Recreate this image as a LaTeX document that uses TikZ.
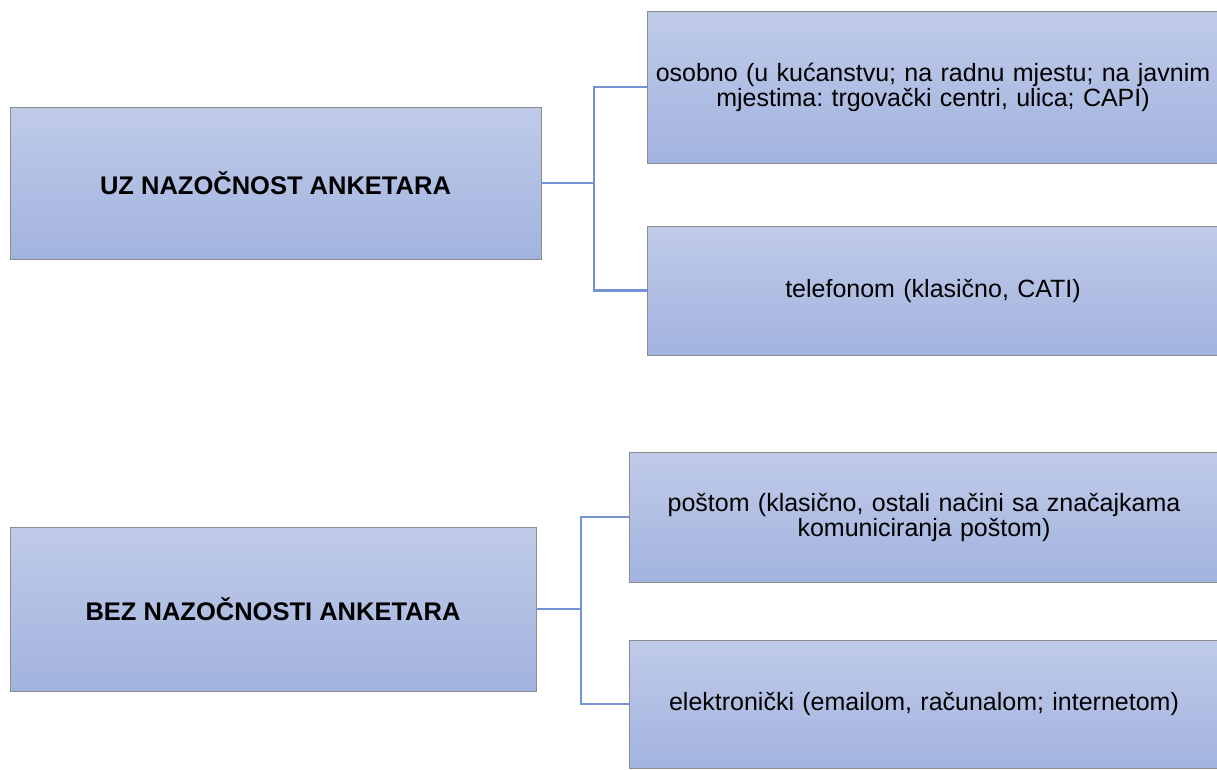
\documentclass[tikz,border=0pt]{standalone}
\usepackage{fontspec}
\setmainfont{Liberation Sans}
\frenchspacing
\begin{document}
\begin{tikzpicture}[x=1pt,y=-1pt,
  box/.style={rectangle, draw=black!45, line width=0.8pt, top color=boxtop, bottom color=boxbot, align=center, inner sep=0pt, font=\fontsize{25}{25}\selectfont},
  main/.style={box, font=\fontsize{25.5}{26}\selectfont\bfseries},
  link/.style={draw=linkblue, line width=2.5pt, line join=miter}]
\definecolor{boxtop}{HTML}{C0CBE8}
\definecolor{boxbot}{HTML}{A2B3DF}
\definecolor{linkblue}{HTML}{7393D3}
\useasboundingbox (0,0) rectangle (1217,769);
\clip (0,0) rectangle (1217,769);
\fill[white] (0,0) rectangle (1217,769);
% top group
\node[main, minimum width=531pt, minimum height=152pt] (A) at (275.5,183) {UZ NAZOČNOST ANKETARA};
\node[box, minimum width=572pt, minimum height=152pt, text width=570pt] (A1) at (933,87) {osobno (u kućanstvu; na radnu mjestu; na javnim\\mjestima: trgovački centri, ulica; CAPI)};
\node[box, minimum width=572pt, minimum height=129pt, text width=570pt] (A2) at (933,290.5) {telefonom (klasično, CATI)};
% bottom group
\node[main, minimum width=526pt, minimum height=164pt] (B) at (273,609) {BEZ NAZOČNOSTI ANKETARA};
\node[box, minimum width=590pt, minimum height=130pt, text width=585pt] (B1) at (924,517) {poštom (klasično, ostali načini sa značajkama\\komuniciranja poštom)};
\node[box, minimum width=590pt, minimum height=128pt, text width=585pt] (B2) at (924,704) {elektronički (emailom, računalom; internetom)};
% connectors
\coordinate (ja) at (594,183);
\coordinate (jb) at (581,609);
\draw[link] (A.east) -- (ja);
\draw[link] (A1.west) -| (ja) |- (A2.west);
\draw[link] (B.east) -- (jb);
\draw[link] (B1.west) -| (jb) |- (B2.west);
\end{tikzpicture}
\end{document}
